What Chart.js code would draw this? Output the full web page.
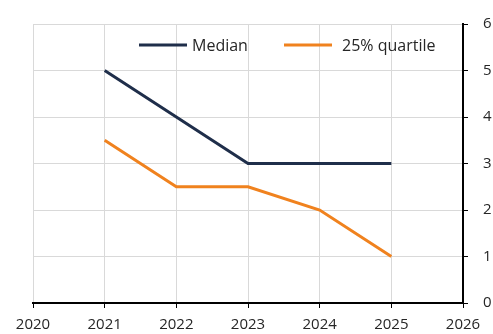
<!DOCTYPE html>
<html>
<head>
<meta charset="utf-8">
<script src="https://cdn.jsdelivr.net/npm/chart.js@4/dist/chart.umd.min.js"></script>
<style>
  html, body { margin: 0; padding: 0; background: #fff; }
  #wrap { width: 493px; height: 334px; }
</style>
</head>
<body>
<div id="wrap"><canvas id="myChart"></canvas></div>
<script>
// series data
var years = [2021, 2022, 2023, 2024, 2025];
var median = [5, 4, 3, 3, 3];
var quartile25 = [3.5, 2.5, 2.5, 2, 1];
var seriesNames = ['Median', '25% quartile'];
var seriesColors = ['#1f2e4a', '#f0821e'];

var axisFont = { family: "'Open Sans', 'Liberation Sans', sans-serif", size: 15 };

function toPoints(xs, ys) {
    return xs.map(function (x, i) { return { x: x, y: ys[i] }; });
}

/* legend drawn inside the plot, single row at the top */
var inlineLegend = {
    id: 'inlineLegend',
    afterDraw: function (chart) {
        var ctx = chart.ctx;
        var items = [
            { x: 139, tx: 192, text: seriesNames[0], color: seriesColors[0] },
            { x: 284, tx: 342, text: seriesNames[1], color: seriesColors[1] }
        ];
        var y = 45;
        ctx.save();
        ctx.font = "16px 'Open Sans', 'Liberation Sans', sans-serif";
        ctx.textBaseline = 'middle';
        items.forEach(function (it) {
            ctx.strokeStyle = it.color;
            ctx.lineWidth = 3;
            ctx.beginPath();
            ctx.moveTo(it.x, y);
            ctx.lineTo(it.x + 48, y);
            ctx.stroke();
            ctx.fillStyle = '#262626';
            ctx.fillText(it.text, it.tx, y + 1);
        });
        ctx.restore();
    }
};

var ctx = document.getElementById('myChart');
var chart = new Chart(ctx, {
    type: 'line',
    data: {
        datasets: [
            {
                label: seriesNames[0],
                data: toPoints(years, median),
                borderColor: seriesColors[0],
                borderWidth: 3,
                pointRadius: 0,
                tension: 0
            },
            {
                label: seriesNames[1],
                data: toPoints(years, quartile25),
                borderColor: seriesColors[1],
                borderWidth: 3,
                pointRadius: 0,
                tension: 0
            }
        ]
    },
    options: {
        responsive: true,
        maintainAspectRatio: false,
        animation: false,
        layout: { padding: { left: 33, top: 22, right: 0, bottom: 0 } },
        plugins: {
            legend: { display: false },
            tooltip: { enabled: false }
        },
        scales: {
            x: {
                type: 'linear',
                min: 2020,
                max: 2026,
                afterFit: function (s) { s.height = 31; },
                ticks: {
                    stepSize: 1,
                    padding: 8,
                    color: '#262626',
                    font: axisFont,
                    maxRotation: 0,
                    callback: function (v) { return String(v); }
                },
                grid: {
                    color: '#d9d9d9',
                    tickColor: '#000',
                    tickLength: 5,
                    lineWidth: 1
                },
                border: { color: '#000', width: 2 }
            },
            y: {
                position: 'right',
                min: 0,
                max: 6,
                afterFit: function (s) { s.width = 30; },
                ticks: {
                    stepSize: 1,
                    padding: 15,
                    color: '#262626',
                    font: axisFont
                },
                grid: {
                    color: '#d9d9d9',
                    tickColor: '#000',
                    tickLength: 5,
                    lineWidth: 1
                },
                border: { color: '#000', width: 2 }
            }
        }
    },
    plugins: [inlineLegend]
});
</script>
</body>
</html>
